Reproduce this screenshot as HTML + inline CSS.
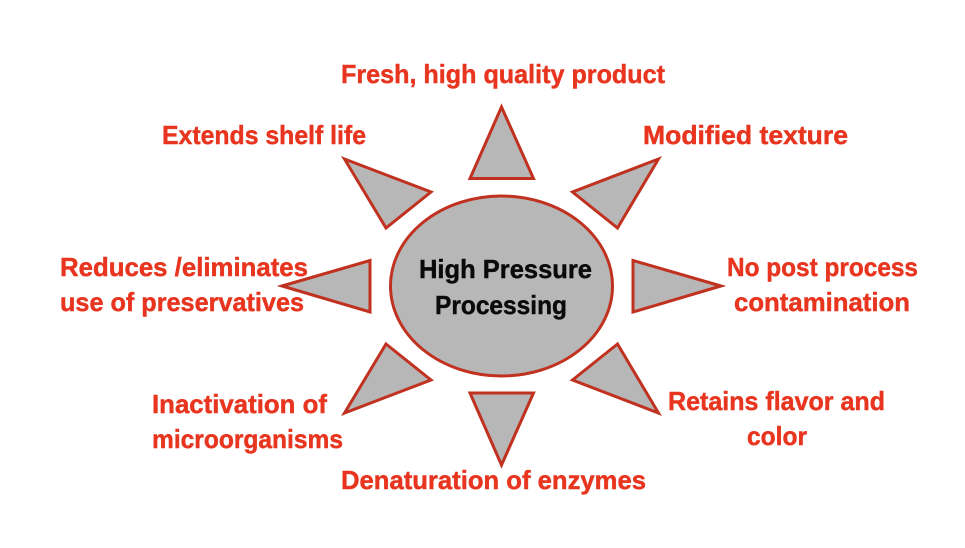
<!DOCTYPE html>
<html lang="en">
<head>
<meta charset="utf-8">
<title>High Pressure Processing</title>
<style>
html,body{margin:0;padding:0;background:#fff;width:965px;height:548px;overflow:hidden}
svg{display:block}
.s{fill:#b7b7b7;stroke:#c0311f;stroke-width:3;stroke-linejoin:miter}
text{font-family:"Liberation Sans",sans-serif;font-weight:bold;font-size:26px;fill:#e8351f;stroke:#e8351f;stroke-width:.45}
.k{fill:#0a0a0a;stroke:#0a0a0a}
</style>
</head>
<body>
<svg width="965" height="548" viewBox="0 0 965 548" xmlns="http://www.w3.org/2000/svg">
<rect width="965" height="548" fill="#fff"/>
<polygon class="s" points="501.5,107 470,178.5 533.5,178.5"/>
<polygon class="s" points="344.5,159 431,192 386,228"/>
<polygon class="s" points="658.5,159 572.5,192 617.5,228"/>
<polygon class="s" points="282,286 370,260.5 370,312"/>
<polygon class="s" points="721,286 633,260.5 633,312"/>
<polygon class="s" points="386,344 431,380 344.5,413"/>
<polygon class="s" points="617.5,344 572.5,380 658.5,413"/>
<polygon class="s" points="470,393 533.5,393 501.5,465"/>
<ellipse class="s" cx="501.5" cy="286" rx="111" ry="90"/>
<text x="341" y="83" textLength="324" lengthAdjust="spacingAndGlyphs">Fresh, high quality product</text>
<text x="162" y="144" textLength="204" lengthAdjust="spacingAndGlyphs">Extends shelf life</text>
<text x="643" y="144" textLength="205" lengthAdjust="spacingAndGlyphs">Modified texture</text>
<text x="60" y="276" textLength="248" lengthAdjust="spacingAndGlyphs">Reduces /eliminates</text>
<text x="60" y="311" textLength="244" lengthAdjust="spacingAndGlyphs">use of preservatives</text>
<text x="727" y="276" textLength="191" lengthAdjust="spacingAndGlyphs">No post process</text>
<text x="734" y="311" textLength="176" lengthAdjust="spacingAndGlyphs">contamination</text>
<text x="152" y="413" textLength="175" lengthAdjust="spacingAndGlyphs">Inactivation of</text>
<text x="152" y="448" textLength="191" lengthAdjust="spacingAndGlyphs">microorganisms</text>
<text x="668" y="410" textLength="217" lengthAdjust="spacingAndGlyphs">Retains flavor and</text>
<text x="747" y="445" textLength="60" lengthAdjust="spacingAndGlyphs">color</text>
<text x="341" y="489" textLength="305" lengthAdjust="spacingAndGlyphs">Denaturation of enzymes</text>
<text class="k" x="419" y="278" textLength="173" lengthAdjust="spacingAndGlyphs">High Pressure</text>
<text class="k" x="435" y="314" textLength="132" lengthAdjust="spacingAndGlyphs">Processing</text>
</svg>
</body>
</html>
